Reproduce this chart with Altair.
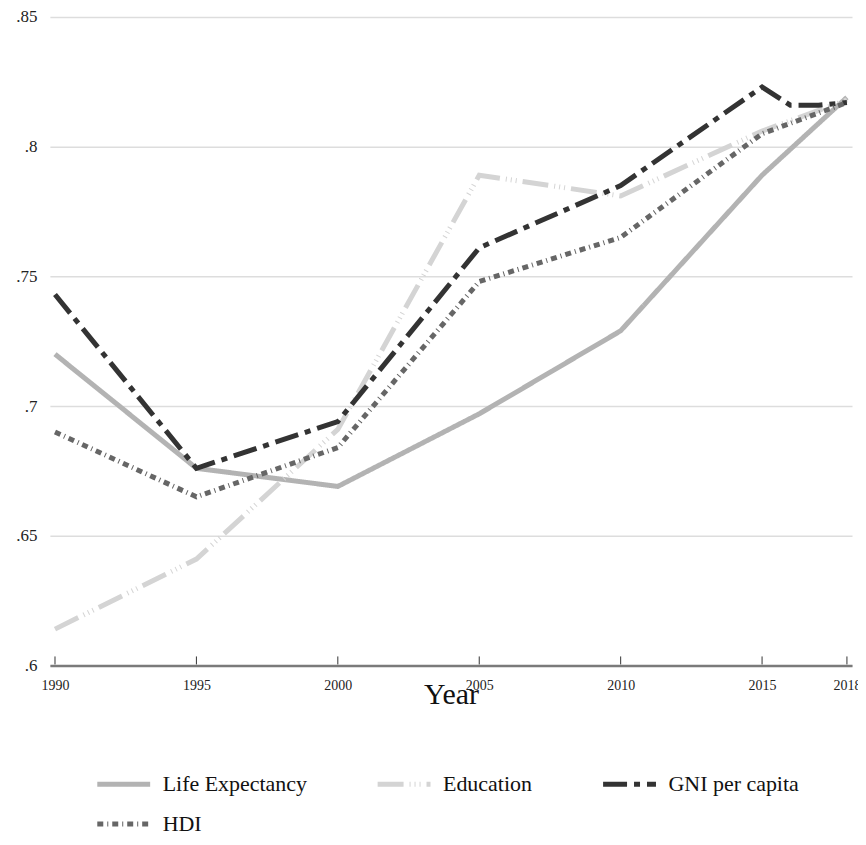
import altair as alt
import pandas as pd

series_names = ["Life Expectancy", "Education", "GNI per capita", "HDI"]
series_colors = ["#b3b3b3", "#d4d4d4", "#333333", "#666666"]
series_dashes = [[1, 0], [26, 6, 1, 4, 1, 4, 1, 6], [24, 7, 6, 7], [6, 4, 1, 4]]

le_years = [1990, 1995, 2000, 2005, 2010, 2015, 2018]
le_values = [0.720, 0.676, 0.669, 0.697, 0.729, 0.789, 0.819]

edu_years = [1990, 1995, 2000, 2005, 2010, 2015, 2018]
edu_values = [0.614, 0.641, 0.691, 0.789, 0.781, 0.806, 0.818]

gni_years = [1990, 1995, 2000, 2005, 2010, 2015, 2016, 2017, 2018]
gni_values = [0.743, 0.676, 0.694, 0.761, 0.785, 0.823, 0.816, 0.816, 0.817]

hdi_years = [1990, 1995, 2000, 2005, 2010, 2015, 2018]
hdi_values = [0.690, 0.665, 0.684, 0.748, 0.765, 0.805, 0.817]

tick_years = [1990, 1995, 2000, 2005, 2010, 2015, 2018]
y_ticks = [0.6, 0.65, 0.7, 0.75, 0.8, 0.85]

rows = []
for name, ys, vs in [
    (series_names[0], le_years, le_values),
    (series_names[1], edu_years, edu_values),
    (series_names[2], gni_years, gni_values),
    (series_names[3], hdi_years, hdi_values),
]:
    for y, v in zip(ys, vs):
        rows.append({"series": name, "year": y, "value": v})
df = pd.DataFrame(rows)
ticks_df = pd.DataFrame({"year": tick_years})

FONT = "Liberation Serif"
W, H = 804, 650

x_enc = alt.X(
    "year:Q",
    scale=alt.Scale(domain=[1989.82, 2018.18], nice=False, zero=False),
    axis=alt.Axis(
        values=tick_years, format="d", ticks=False, grid=False,
        domain=True, domainColor="#7a7a7a", domainWidth=2.5,
        labelFont=FONT, labelFontSize=14, labelColor="#222222",
        labelPadding=13, labelFlush=False,
        title="Year", titleFont=FONT, titleFontSize=30, titleFontWeight="normal",
        titleColor="#111111", titleBaseline="alphabetic", titleY=38,
    ),
)
y_enc = alt.Y(
    "value:Q",
    scale=alt.Scale(domain=[0.6, 0.85], nice=False, zero=False),
    axis=alt.Axis(
        values=y_ticks, labelExpr="substring(format(datum.value, '.2~f'), 1)",
        domain=False, ticks=False, grid=True, gridColor="#dddddd", gridWidth=1.5,
        labelFont=FONT, labelFontSize=17, labelColor="#222222", labelPadding=13,
        title=None,
    ),
)
legend = alt.Legend(
    title=None, orient="none", legendX=45, legendY=740, direction="horizontal",
    columns=3, symbolType="stroke", symbolSize=2809, symbolStrokeWidth=5,
    labelFont=FONT, labelFontSize=22, labelColor="#111111", labelOffset=10,
    columnPadding=60, rowPadding=-1, padding=0, labelLimit=300,
)
color_enc = alt.Color("series:N", scale=alt.Scale(domain=series_names, range=series_colors), legend=legend)
dash_enc = alt.StrokeDash("series:N", scale=alt.Scale(domain=series_names, range=series_dashes), legend=legend)

layers = []
for name in series_names:
    layers.append(
        alt.Chart(df).transform_filter(alt.datum.series == name)
        .mark_line(strokeWidth=5, strokeCap="butt", strokeJoin="miter")
        .encode(x=x_enc, y=y_enc, color=color_enc, strokeDash=dash_enc, order="year:Q")
    )

tick_rules = alt.Chart(ticks_df).mark_rule(color="#333333", strokeWidth=1).encode(
    x=alt.X("year:Q"), y=alt.value(H - 1), y2=alt.value(H - 9)
)

chart = alt.layer(*layers, tick_rules).properties(
    width=W, height=H,
    autosize=alt.AutoSizeParams(type="none"),
    padding={"left": 42, "top": 8, "right": 6, "bottom": 174},
    background="white",
).configure_view(stroke=None).configure_legend(
    labelFont=FONT, labelFontSize=22, labelColor="#111111"
)

chart.save("out.html", embed_options={"renderer": "svg", "actions": False})
